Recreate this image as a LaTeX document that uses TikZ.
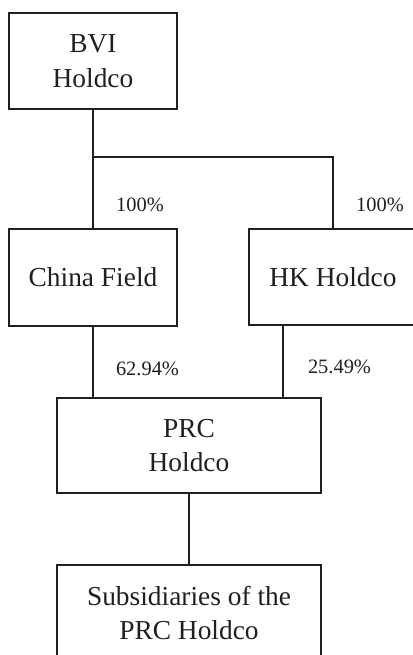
\documentclass[tikz,border=0pt]{standalone}
\usepackage{fontspec}
\setmainfont{Liberation Serif}
\begin{document}
\begin{tikzpicture}[x=1bp,y=-1bp,
  box/.style={draw=black!88,line width=1.3bp,inner sep=0pt,align=center,
    font=\fontsize{27.5}{35}\selectfont,text=black!88},
  link/.style={draw=black!88,line width=1.3bp},
  pct/.style={font=\fontsize{20.5}{24}\selectfont,text=black!88,anchor=base,inner sep=0pt}]
\useasboundingbox (0,0) rectangle (412,655);
\node[box,minimum width=168bp,minimum height=96bp] (bvi) at (93,61) {BVI\\Holdco};
\node[box,minimum width=168bp,minimum height=97bp] (cf) at (93,277.5) {China Field};
\node[box,minimum width=168bp,minimum height=96bp] (hk) at (333,277) {HK Holdco};
\node[box,minimum width=264bp,minimum height=95bp] (prc) at (189,445.5) {PRC\\Holdco};
\node[box,minimum width=264bp,minimum height=96bp] (sub) at (189,613) {Subsidiaries of the\\PRC Holdco};
\coordinate (j) at (93,157);
\coordinate (hkout) at (283,325);
\draw[link] (bvi.south) -- (cf.north);
\draw[link] (j) -| (hk.north);
\draw[link] (cf.south) -- (cf.south |- prc.north);
\draw[link] (hkout) -- (hkout |- prc.north);
\draw[link] (prc.south) -- (sub.north);
\node[pct] (p1) at (140,211) {100\%};
\node[pct] (p2) at (380,211) {100\%};
\node[pct] (p3) at (147.5,375) {62.94\%};
\node[pct] (p4) at (339.5,373) {25.49\%};
\end{tikzpicture}
\end{document}
